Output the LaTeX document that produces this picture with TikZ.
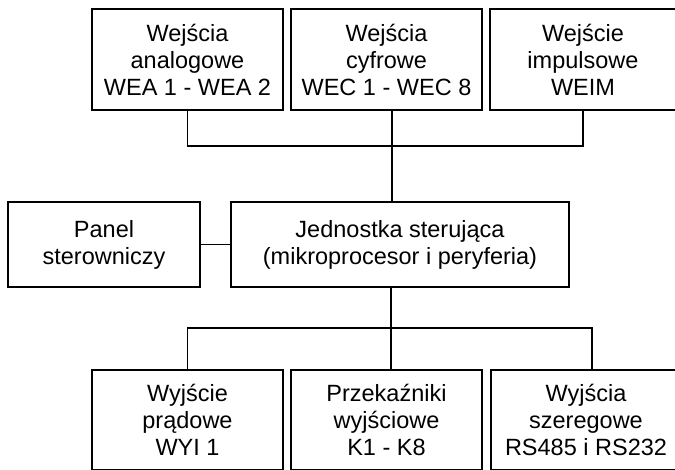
\documentclass[tikz,border=0pt]{standalone}
\usepackage{fontspec}
\setmainfont{Liberation Sans}
\begin{document}
\begin{tikzpicture}[x=1pt,y=-1pt,
  box/.style={draw, line width=1.5pt, inner sep=0pt, align=center,
    font=\fontsize{23.5}{27}\selectfont},
  wire/.style={line width=1.5pt}]
\useasboundingbox (0,0) rectangle (675,469);
\clip (0,0) rectangle (675,469);
% top row
\node[box, minimum width=191pt, minimum height=101pt] (in1) at (187.5,59.5) {Wejścia\\analogowe\\WEA 1 - WEA 2};
\node[box, minimum width=191pt, minimum height=101pt] (in2) at (386.5,59.5) {Wejścia\\cyfrowe\\WEC 1 - WEC 8};
\node[box, minimum width=186pt, minimum height=101pt] (in3) at (583,59.5) {Wejście\\impulsowe\\WEIM};
% middle row
\node[box, minimum width=192pt, minimum height=85pt] (panel) at (104,244.5) {Panel\\sterowniczy};
\node[box, minimum width=338pt, minimum height=85pt] (cpu) at (400,244.5) {Jednostka sterująca\\(mikroprocesor i peryferia)};
% bottom row
\node[box, minimum width=191pt, minimum height=100pt] (out1) at (187.5,420) {Wyjście\\prądowe\\WYI 1};
\node[box, minimum width=191pt, minimum height=100pt] (out2) at (386.5,420) {Przekaźniki\\wyjściowe\\K1 - K8};
\node[box, minimum width=190pt, minimum height=100pt] (out3) at (586,420) {Wyjścia\\szeregowe\\RS485 i RS232};
% junctions
\coordinate (tj) at (392,146);
\coordinate (bj) at (391,328);
% top bus
\draw[wire] (in1.south) |- (tj) -| (in3.south);
\draw[wire] (in2.south -| tj) -- (cpu.north -| tj);
% panel link
\draw[wire] (panel.east) -- (cpu.west);
% bottom bus
\draw[wire] (cpu.south -| bj) -- (out2.north -| bj);
\draw[wire] (out1.north) |- (bj) -- (bj -| 592,0) -- (out3.north -| 592,0);
\end{tikzpicture}
\end{document}
